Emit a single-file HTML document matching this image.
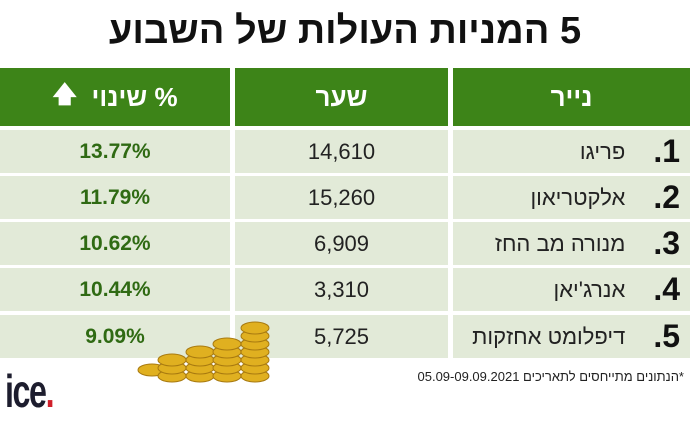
<!DOCTYPE html>
<html><head><meta charset="utf-8"><style>
body{margin:0;width:690px;height:422px;background:#fff;font-family:"Liberation Sans","Noto Sans CJK SC",sans-serif;position:relative;overflow:hidden}
.t{position:absolute;left:0;width:690px;top:10px;text-align:center;font-size:38px;font-weight:bold;color:#111;direction:rtl}
.c{position:absolute;display:flex;align-items:center;justify-content:center;box-sizing:border-box}
.h{background:#3d8418;color:#fff;font-size:26px;font-weight:bold;top:68px;height:58px;direction:rtl}
.r{background:#e2ead8;font-size:22px;color:#222;height:43px}
.p{color:#2f6a13;font-weight:bold;font-size:21px}
.n{justify-content:flex-start;padding-right:10px;direction:rtl}
.num{font-weight:bold;font-size:32px;margin-left:28px;color:#111}
</style></head><body>
<div class="t">5 המניות העולות של השבוע</div>
<div class="c h" style="left:0;width:230px">% שינוי&nbsp;&nbsp;<span style="font-size:24px">🡅</span></div>
<div class="c h" style="left:235px;width:213px">שער</div>
<div class="c h" style="left:453px;width:237px">נייר</div>

<div class="c r p" style="left:0;width:230px;top:130px">13.77%</div>
<div class="c r" style="left:235px;width:213px;top:130px">14,610</div>
<div class="c r n" style="left:453px;width:237px;top:130px"><span class="num">1.</span>פריגו</div>

<div class="c r p" style="left:0;width:230px;top:176px">11.79%</div>
<div class="c r" style="left:235px;width:213px;top:176px">15,260</div>
<div class="c r n" style="left:453px;width:237px;top:176px"><span class="num">2.</span>אלקטריאון</div>

<div class="c r p" style="left:0;width:230px;top:222px">10.62%</div>
<div class="c r" style="left:235px;width:213px;top:222px">6,909</div>
<div class="c r n" style="left:453px;width:237px;top:222px"><span class="num">3.</span>מנורה מב החז</div>

<div class="c r p" style="left:0;width:230px;top:268px">10.44%</div>
<div class="c r" style="left:235px;width:213px;top:268px">3,310</div>
<div class="c r n" style="left:453px;width:237px;top:268px"><span class="num">4.</span>אנרג'יאן</div>

<div class="c r p" style="left:0;width:230px;top:315px">9.09%</div>
<div class="c r" style="left:235px;width:213px;top:315px">5,725</div>
<div class="c r n" style="left:453px;width:237px;top:315px"><span class="num">5.</span>דיפלומט אחזקות</div>

<svg style="position:absolute;left:130px;top:318px" width="145" height="65">
<g fill="#e0b020" stroke="#a87a10" stroke-width="1">
<ellipse cx="22" cy="52" rx="14" ry="6"/>
<ellipse cx="42" cy="58" rx="14" ry="6"/><ellipse cx="42" cy="50" rx="14" ry="6"/><ellipse cx="42" cy="42" rx="14" ry="6"/>
<ellipse cx="70" cy="58" rx="14" ry="6"/><ellipse cx="70" cy="50" rx="14" ry="6"/><ellipse cx="70" cy="42" rx="14" ry="6"/><ellipse cx="70" cy="34" rx="14" ry="6"/>
<ellipse cx="97" cy="58" rx="14" ry="6"/><ellipse cx="97" cy="50" rx="14" ry="6"/><ellipse cx="97" cy="42" rx="14" ry="6"/><ellipse cx="97" cy="34" rx="14" ry="6"/><ellipse cx="97" cy="26" rx="14" ry="6"/>
<ellipse cx="125" cy="58" rx="14" ry="6"/><ellipse cx="125" cy="50" rx="14" ry="6"/><ellipse cx="125" cy="42" rx="14" ry="6"/><ellipse cx="125" cy="34" rx="14" ry="6"/><ellipse cx="125" cy="26" rx="14" ry="6"/><ellipse cx="125" cy="18" rx="14" ry="6"/><ellipse cx="125" cy="10" rx="14" ry="6"/>
</g></svg>
<div style="position:absolute;right:6px;top:369px;font-size:13px;color:#222;direction:rtl">*הנתונים מתייחסים לתאריכים 05.09-09.09.2021</div>
<div style="position:absolute;left:5px;top:364px;font-size:46px;font-weight:bold;color:#1d1d2e;letter-spacing:-2px;transform:scaleX(0.7);transform-origin:left">ice<span style="color:#d0202a">.</span></div>
</body></html>
